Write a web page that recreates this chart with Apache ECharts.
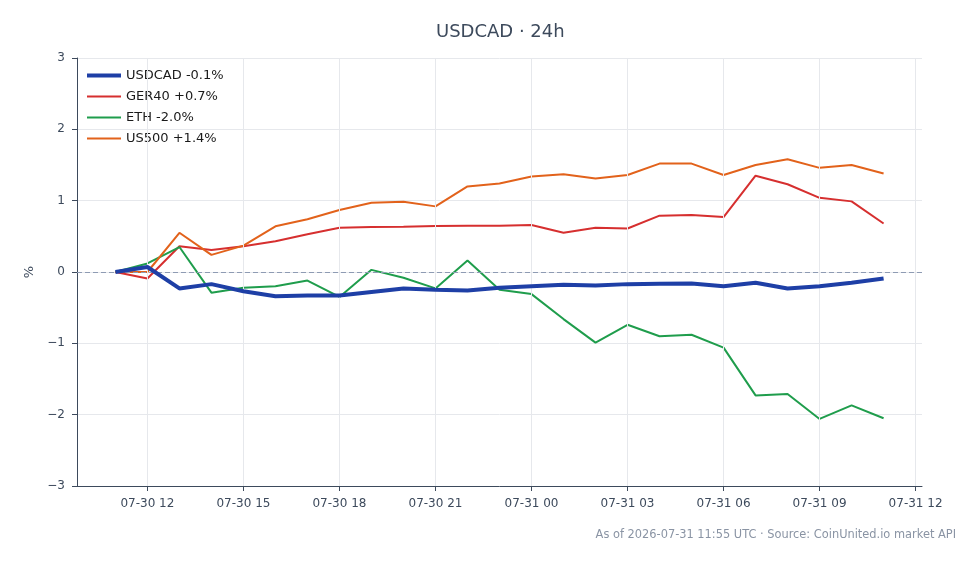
<!DOCTYPE html>
<html>
<head>
<meta charset="utf-8">
<script src="https://cdn.jsdelivr.net/npm/echarts@6/dist/echarts.min.js"></script>
<style>
  html, body { margin: 0; padding: 0; background: #fff; }
  #chart { width: 980px; height: 564px; }
</style>
</head>
<body>
<div id="chart"></div>
<script>
// hourly samples, UTC
const times = [
  "2026-07-30 11:00", "2026-07-30 12:00", "2026-07-30 13:00", "2026-07-30 14:00", "2026-07-30 15:00",
  "2026-07-30 16:00", "2026-07-30 17:00", "2026-07-30 18:00", "2026-07-30 19:00", "2026-07-30 20:00",
  "2026-07-30 21:00", "2026-07-30 22:00", "2026-07-30 23:00", "2026-07-31 00:00", "2026-07-31 01:00",
  "2026-07-31 02:00", "2026-07-31 03:00", "2026-07-31 04:00", "2026-07-31 05:00", "2026-07-31 06:00",
  "2026-07-31 07:00", "2026-07-31 08:00", "2026-07-31 09:00", "2026-07-31 10:00", "2026-07-31 11:00"
];

// % change since first sample
const usdcad = [0, 0.07, -0.23, -0.17, -0.27, -0.34, -0.33, -0.33, -0.28, -0.23, -0.25, -0.26, -0.22,
  -0.20, -0.18, -0.19, -0.17, -0.165, -0.16, -0.20, -0.15, -0.23, -0.20, -0.15, -0.09];
const ger40 = [0, -0.09, 0.36, 0.31, 0.36, 0.43, 0.53, 0.62, 0.63, 0.635, 0.645, 0.648, 0.65,
  0.66, 0.55, 0.62, 0.61, 0.79, 0.80, 0.77, 1.35, 1.23, 1.04, 0.99, 0.68];
const eth = [0, 0.12, 0.35, -0.29, -0.22, -0.20, -0.12, -0.35, 0.03, -0.08, -0.23, 0.16, -0.25,
  -0.31, -0.66, -0.99, -0.74, -0.90, -0.88, -1.06, -1.73, -1.71, -2.06, -1.87, -2.05];
const us500 = [0, 0, 0.55, 0.24, 0.37, 0.64, 0.74, 0.87, 0.97, 0.985, 0.92, 1.20, 1.24,
  1.34, 1.37, 1.31, 1.36, 1.52, 1.52, 1.36, 1.50, 1.58, 1.46, 1.50, 1.38];

const xTicks = [
  "2026-07-30 12:00", "2026-07-30 15:00", "2026-07-30 18:00", "2026-07-30 21:00", "2026-07-31 00:00",
  "2026-07-31 03:00", "2026-07-31 06:00", "2026-07-31 09:00", "2026-07-31 12:00"
];
const xRange = ["2026-07-30 09:48", "2026-07-31 12:12"];

const ms = (s) => Date.parse(s.replace(" ", "T") + ":00Z");
const pad = (n) => String(n).padStart(2, "0");
function fmtTime(v) {
  const d = new Date(v);
  return pad(d.getUTCMonth() + 1) + "-" + pad(d.getUTCDate()) + " " + pad(d.getUTCHours());
}
const pts = (vals) => vals.map((v, i) => [ms(times[i]), v]);

const ink = "#3d4a5c";
const gridColor = "#e6e8ec";
const font = "DejaVu Sans";

const series = [
  { name: "USDCAD -0.1%", data: usdcad, color: "#1e3fa6", width: 4, z: 5 },
  { name: "GER40 +0.7%", data: ger40, color: "#d62f2f", width: 2, z: 3 },
  { name: "ETH -2.0%", data: eth, color: "#1f9d4c", width: 2, z: 3 },
  { name: "US500 +1.4%", data: us500, color: "#e2621b", width: 2, z: 3 }
];

const chart = echarts.init(document.getElementById("chart"), null, { renderer: "canvas" });

chart.setOption({
  animation: false,
  textStyle: { fontFamily: font },
  title: {
    text: "USDCAD · 24h",
    left: 431,
    top: 18,
    textStyle: { color: ink, fontSize: 18, fontWeight: "normal", fontFamily: font }
  },
  legend: {
    orient: "vertical",
    left: 85,
    top: 69,
    padding: 0,
    itemWidth: 34,
    itemHeight: 14,
    itemGap: 8,
    itemStyle: { opacity: 0 },
    data: series.map((s) => ({ name: s.name, lineStyle: { width: s.width } })),
    textStyle: { color: "#1a1a1a", fontSize: 13, fontFamily: font }
  },
  grid: { left: 77, right: 58, top: 58, bottom: 78 },
  xAxis: {
    type: "value",
    min: ms(xRange[0]),
    max: ms(xRange[1]),
    axisLine: { show: true, onZero: false, lineStyle: { color: ink, width: 1 } },
    axisTick: { show: true, length: 5, customValues: xTicks.map(ms), lineStyle: { color: ink } },
    axisLabel: {
      customValues: xTicks.map(ms),
      color: ink, fontSize: 12, margin: 12, fontFamily: font,
      formatter: (v) => fmtTime(v)
    },
    splitLine: { show: false }
  },
  yAxis: {
    type: "value",
    min: -3,
    max: 3,
    interval: 1,
    name: "%",
    nameLocation: "middle",
    nameGap: 41,
    nameRotate: 90,
    nameTextStyle: { color: ink, fontSize: 13, fontFamily: font },
    axisLine: { show: true, lineStyle: { color: ink, width: 1 } },
    axisTick: { show: true, length: 5, lineStyle: { color: ink } },
    axisLabel: {
      color: ink, fontSize: 12, margin: 12, fontFamily: font,
      formatter: (v) => (v < 0 ? "\u2212" + Math.abs(v) : String(v))
    },
    splitLine: { show: true, lineStyle: { color: gridColor, width: 1 } }
  },
  series: [
    {
      name: "_grid",
      type: "line",
      data: [],
      z: 1,
      silent: true,
      markLine: {
        silent: true,
        symbol: "none",
        label: { show: false },
        animation: false,
        data: [
          ...xTicks.map((t) => ({ xAxis: ms(t), lineStyle: { color: gridColor, width: 1, type: "solid" } })),
          { yAxis: 0, lineStyle: { color: "#8e9bb3", width: 1, type: [5, 3] } }
        ]
      }
    },
    ...series.map((s) => ({
      name: s.name,
      type: "line",
      data: pts(s.data),
      symbol: "none",
      z: s.z,
      color: s.color,
      lineStyle: { color: s.color, width: s.width },
      emphasis: { disabled: true }
    }))
  ],
  graphic: [
    {
      type: "text",
      right: 24,
      top: 530,
      style: {
        text: "As of 2026-07-31 11:55 UTC · Source: CoinUnited.io market API",
        fill: "#8a94a4",
        fontSize: 11.4,
        fontFamily: font
      }
    }
  ]
});
</script>
</body>
</html>
